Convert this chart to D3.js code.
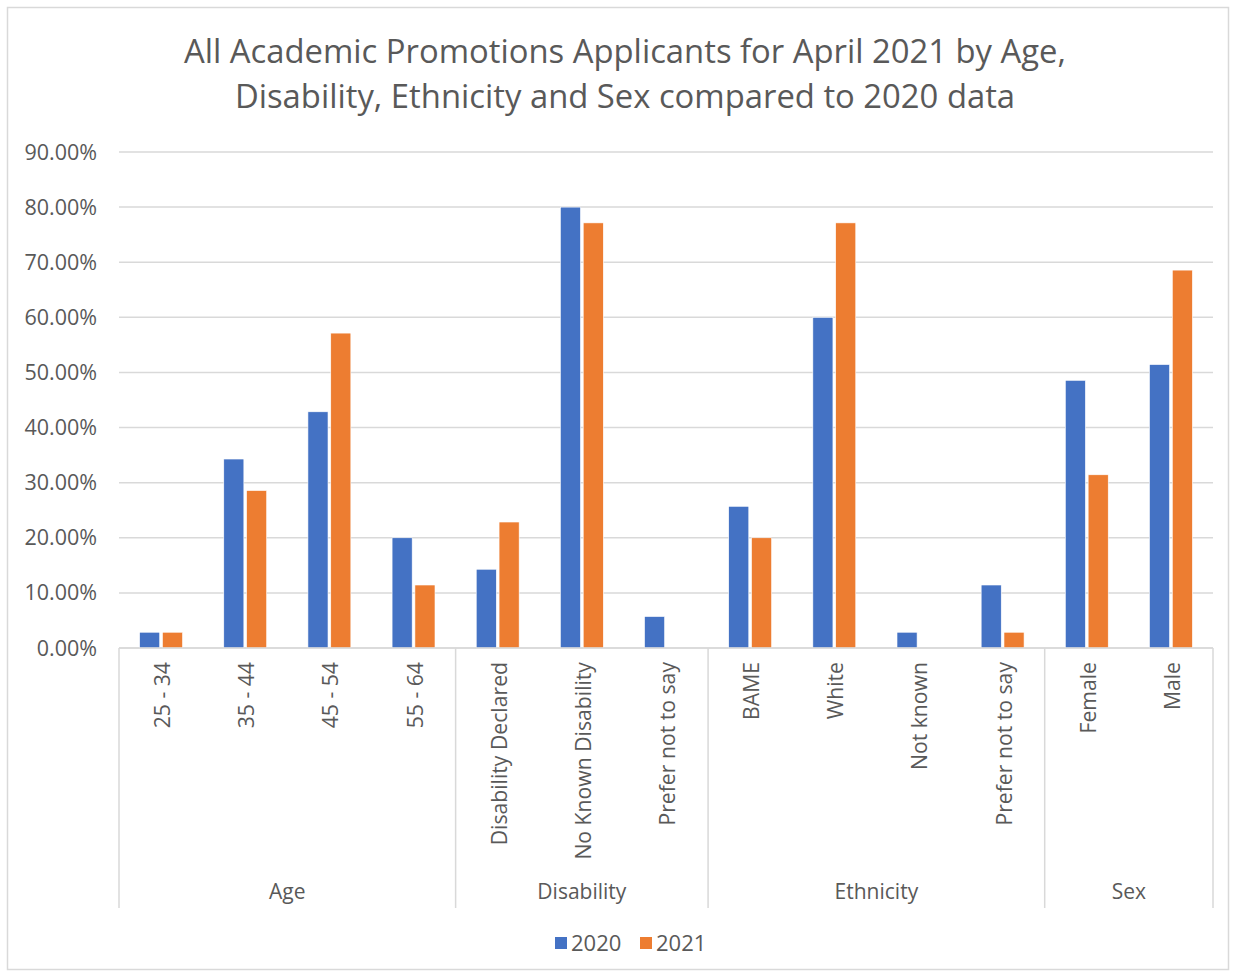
<!DOCTYPE html>
<html lang="en">
<head>
    <meta charset="UTF-8">
    <title>Academic Promotions Applicants</title>
    <script src="https://cdnjs.cloudflare.com/ajax/libs/d3/7.8.5/d3.min.js"></script>
    <style>
        body{
            margin:0;
            background:#fff;
            font-family:"Open Sans", Lato, sans-serif;
        }
        svg text{
            fill:#595959;
        }
    </style>
</head>
<body>
<svg width="1237" height="976"></svg>
<script>
// data
const groups = ["Age", "Disability", "Ethnicity", "Sex"];
const categories = [
    ["Age", "25 - 34"], ["Age", "35 - 44"], ["Age", "45 - 54"], ["Age", "55 - 64"],
    ["Disability", "Disability Declared"], ["Disability", "No Known Disability"], ["Disability", "Prefer not to say"],
    ["Ethnicity", "BAME"], ["Ethnicity", "White"], ["Ethnicity", "Not known"], ["Ethnicity", "Prefer not to say"],
    ["Sex", "Female"], ["Sex", "Male"]
];
const series = ["2020", "2021"];
const values2020 = [2.86, 34.29, 42.86, 20.00, 14.29, 80.00, 5.71, 25.71, 60.00, 2.86, 11.43, 48.57, 51.43];
const values2021 = [2.86, 28.57, 57.14, 11.43, 22.86, 77.14, 0, 20.00, 77.14, 0, 2.86, 31.43, 68.57];
const yTicks = [0, 10, 20, 30, 40, 50, 60, 70, 80, 90];
const colors = ["#4472C4", "#ED7D31"];

const svg = d3.select("svg");
const W = 1237, H = 976;
const margin = {left:119, right:24, top:152, bottom:328};

// chart frame
svg.append("rect")
    .attr("x", 7.5).attr("y", 7.5)
    .attr("width", 1221).attr("height", 962)
    .attr("fill", "#fff")
    .attr("stroke", "#d9d9d9")
    .attr("stroke-width", 1.5);

// title
svg.append("text")
    .attr("x", 625).attr("y", 63)
    .attr("text-anchor", "middle")
    .style("font-size", "32.8px")
    .text("All Academic Promotions Applicants for April 2021 by Age,");
svg.append("text")
    .attr("x", 625).attr("y", 108)
    .attr("text-anchor", "middle")
    .style("font-size", "32.8px")
    .text("Disability, Ethnicity and Sex compared to 2020 data");

const x = d3.scaleBand()
    .domain(d3.range(categories.length))
    .range([margin.left, W - margin.right]);

const y = d3.scaleLinear()
    .domain([0, 90])
    .range([H - margin.bottom, margin.top]);

const inner = d3.scaleBand()
    .domain(series)
    .range([x.bandwidth() * 0.245, x.bandwidth() * 0.755])
    .paddingInner(0.12);

// gridlines + y labels
const grid = svg.append("g");
grid.selectAll("line")
    .data(yTicks)
    .join("line")
    .attr("x1", margin.left).attr("x2", W - margin.right)
    .attr("y1", d => y(d)).attr("y2", d => y(d))
    .attr("stroke", "#d9d9d9")
    .attr("stroke-width", 1.5);

grid.selectAll("text")
    .data(yTicks)
    .join("text")
    .attr("x", 97)
    .attr("y", d => y(d))
    .attr("dy", "0.35em")
    .attr("text-anchor", "end")
    .style("font-size", "21.5px")
    .text(d => d3.format(".2f")(d) + "%");

// bars
const allValues = [values2020, values2021];
series.forEach((s, si) => {
    svg.append("g")
        .selectAll("rect")
        .data(allValues[si])
        .join("rect")
        .attr("x", (d, i) => x(i) + inner(s))
        .attr("width", inner.bandwidth())
        .attr("y", d => y(d))
        .attr("height", d => y(0) - y(d))
        .attr("fill", colors[si])
        .attr("stroke", d => d > 0 ? "#fff" : "none")
        .attr("stroke-width", 0.6);
});

// category axis
const axisY = y(0);
const axisBottom = 908;
svg.append("line")
    .attr("x1", margin.left).attr("x2", W - margin.right)
    .attr("y1", axisY).attr("y2", axisY)
    .attr("stroke", "#d9d9d9").attr("stroke-width", 1.5);

svg.append("g")
    .selectAll("text")
    .data(categories)
    .join("text")
    .attr("transform", (d, i) => `translate(${x(i) + x.bandwidth() / 2 + 9},662) rotate(-90)`)
    .attr("text-anchor", "end")
    .style("font-size", "21.2px")
    .text(d => d[1]);

// group separators and labels
const groupInfo = groups.map(g => {
    const idx = categories.map((c, i) => c[0] === g ? i : -1).filter(i => i >= 0);
    return {name: g, start: x(idx[0]), end: x(idx[idx.length - 1]) + x.bandwidth()};
});
const bounds = [groupInfo[0].start].concat(groupInfo.map(g => g.end));
svg.append("g")
    .selectAll("line")
    .data(bounds)
    .join("line")
    .attr("x1", d => d).attr("x2", d => d)
    .attr("y1", axisY).attr("y2", axisBottom)
    .attr("stroke", "#d9d9d9").attr("stroke-width", 1.5);

svg.append("g")
    .selectAll("text")
    .data(groupInfo)
    .join("text")
    .attr("x", d => (d.start + d.end) / 2)
    .attr("y", 899)
    .attr("text-anchor", "middle")
    .style("font-size", "21px")
    .text(d => d.name);

// legend
const legend = svg.append("g").attr("transform", "translate(555,943)");
series.forEach((s, si) => {
    const lg = legend.append("g").attr("transform", `translate(${si * 85},0)`);
    lg.append("rect")
        .attr("x", 0).attr("y", -6)
        .attr("width", 12).attr("height", 12)
        .attr("fill", colors[si]);
    lg.append("text")
        .attr("x", 16).attr("y", 0)
        .attr("dy", "0.35em")
        .style("font-size", "22px")
        .text(s);
});
</script>
</body>
</html>
